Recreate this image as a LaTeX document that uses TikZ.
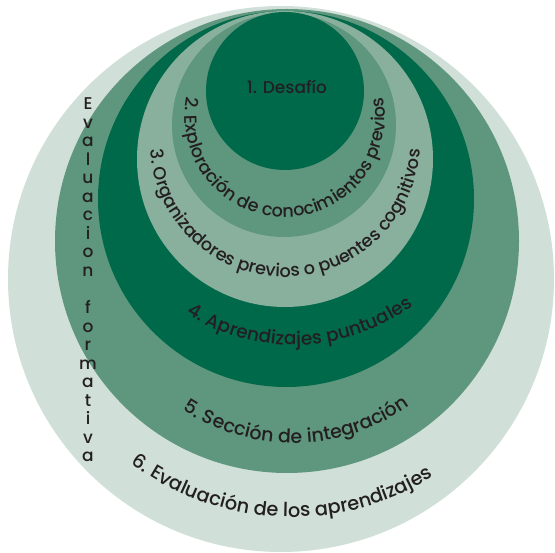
\documentclass[tikz,border=0pt]{standalone}
\usepackage{fontspec}
\IfFontExistsTF{Poppins Medium}{\setmainfont{Poppins Medium}}{\setmainfont{Poppins}[FakeBold=1.2]}
\usetikzlibrary{decorations.text}
\definecolor{cdark}{HTML}{00694A}
\definecolor{cmid}{HTML}{5F967E}
\definecolor{clight}{HTML}{89AF9D}
\definecolor{cpale}{HTML}{D0E0D8}
\definecolor{ctext}{HTML}{231F20}
\newcommand{\fsz}[1]{\color{ctext}\fontsize{#1}{20}\selectfont}
\tikzset{
  ring/.style={draw=none},
  arctext/.style={decorate, decoration={text along path, text align=center, text={#1}}},
  vlet/.style={anchor=base, inner sep=0pt, text=ctext, font=\fontsize{17}{20}\selectfont}
}
\begin{document}
\begin{tikzpicture}[x=1pt,y=-1pt]
\useasboundingbox (0,0) rectangle (555,553);
\fill[ring, cpale]  (281,279) circle (273);
\fill[ring, cmid]   (287,241) circle (232);
\fill[ring, cdark]  (286,199) circle (188);
\fill[ring, clight] (285,159) circle (148);
\fill[ring, cmid]   (284,125) circle (112);
\fill[ring, cdark]  (285,91)  circle (79);
\node[text=ctext, font=\fontsize{17}{20}\selectfont] (t1) at (287,87) {1. Desafío};
\path[arctext={|\fsz{17.6}|2. Exploración de conocimientos previos}] (285,117) ++(225:100) arc (225:-45:100);
\path[arctext={|\fsz{17.6}|3. Organizadores previos o puentes cognitivos}] (285,142) ++(215:135) arc (215:-35:135);
\path[arctext={|\fsz{18.5}|4. Aprendizajes puntuales}] (294,144) ++(160:201) arc (160:16:201);
\path[arctext={|\fsz{19}|5. Sección de integración}] (293,242) ++(160:201) arc (160:18:201);
\path[arctext={|\fsz{19.3}|6. Evaluación de los aprendizajes}] (292,248) ++(160:269) arc (160:25:269);
\foreach \l [count=\i from 0] in {E,v,a,l,u,a,c,i,o,n}
  \node[vlet] (ev\i) at (88,{109.5+18.55*\i}) {\l};
\foreach \l [count=\i from 11] in {f,o,r,m,a,t,i,v,a}
  \node[vlet] (ev\i) at (88,{109.5+18.55*\i}) {\l};
\end{tikzpicture}
\end{document}
